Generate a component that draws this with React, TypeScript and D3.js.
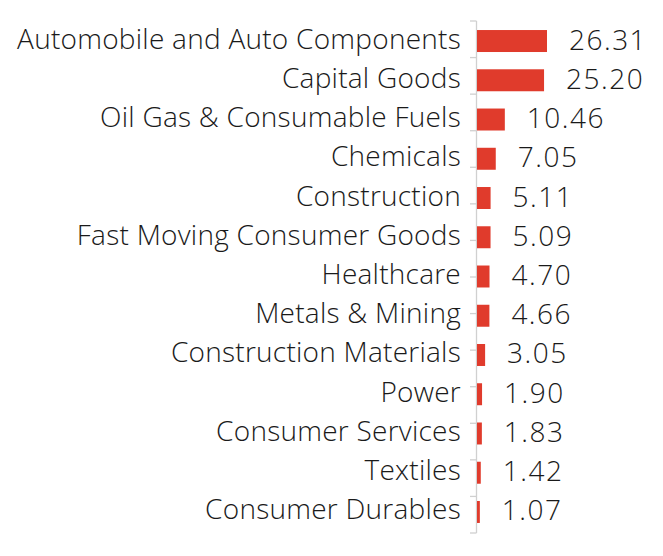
import React from "react";
import * as d3 from "d3";

const categories = [
  "Automobile and Auto Components",
  "Capital Goods",
  "Oil Gas & Consumable Fuels",
  "Chemicals",
  "Construction",
  "Fast Moving Consumer Goods",
  "Healthcare",
  "Metals & Mining",
  "Construction Materials",
  "Power",
  "Consumer Services",
  "Textiles",
  "Consumer Durables",
];
const values = [26.31, 25.2, 10.46, 7.05, 5.11, 5.09, 4.7, 4.66, 3.05, 1.9, 1.83, 1.42, 1.07];
const valueLabels = ["26.31", "25.20", "10.46", "7.05", "5.11", "5.09", "4.70", "4.66", "3.05", "1.90", "1.83", "1.42", "1.07"];

const W = 663;
const H = 556;
const axisX = 477;
const FONT = "'Open Sans', sans-serif";

export default function App() {
  const y = d3
    .scaleBand<string>()
    .domain(categories)
    .range([21.4, 531.6])
    .paddingInner(0.44)
    .paddingOuter(0.22);
  const x = d3.scaleLinear().domain([0, 26.31]).range([axisX, axisX + 70]);
  const tickScale = d3.scaleLinear().domain([0, 14]).range([21, 533]);
  const ticks = d3.range(15);

  return (
    <svg
      width={W}
      height={H}
      style={{ position: "absolute", left: 0, top: 0, background: "#fff" }}
    >
      <line x1={axisX - 0.5} x2={axisX - 0.5} y1={tickScale(0)} y2={tickScale(14)} stroke="#d0d0d0" strokeWidth={1.3} />
      {ticks.map((t) => (
        <line
          key={t}
          x1={axisX - 7}
          x2={axisX - 0.5}
          y1={tickScale(t)}
          y2={tickScale(t)}
          stroke="#d0d0d0"
          strokeWidth={1.3}
        />
      ))}
      {categories.map((c, i) => {
        const yc = (y(c) as number) + y.bandwidth() / 2;
        return (
          <g key={c}>
            <rect
              x={x(0)}
              y={y(c)}
              width={x(values[i]) - x(0)}
              height={y.bandwidth()}
              fill="#e03b2c"
            />
            <text
              x={461}
              y={yc + 7.5}
              textAnchor="end"
              fontFamily={FONT}
              fontSize={28}
              fontWeight={300}
              letterSpacing={0.25}
              fill="#1a1a1a"
            >
              {c}
            </text>
            <text
              x={x(values[i]) + 22}
              y={yc + 8.5}
              fontFamily={FONT}
              fontSize={28}
              fontWeight={300}
              letterSpacing={1.5}
              fill="#1a1a1a"
            >
              {valueLabels[i]}
            </text>
          </g>
        );
      })}
    </svg>
  );
}
